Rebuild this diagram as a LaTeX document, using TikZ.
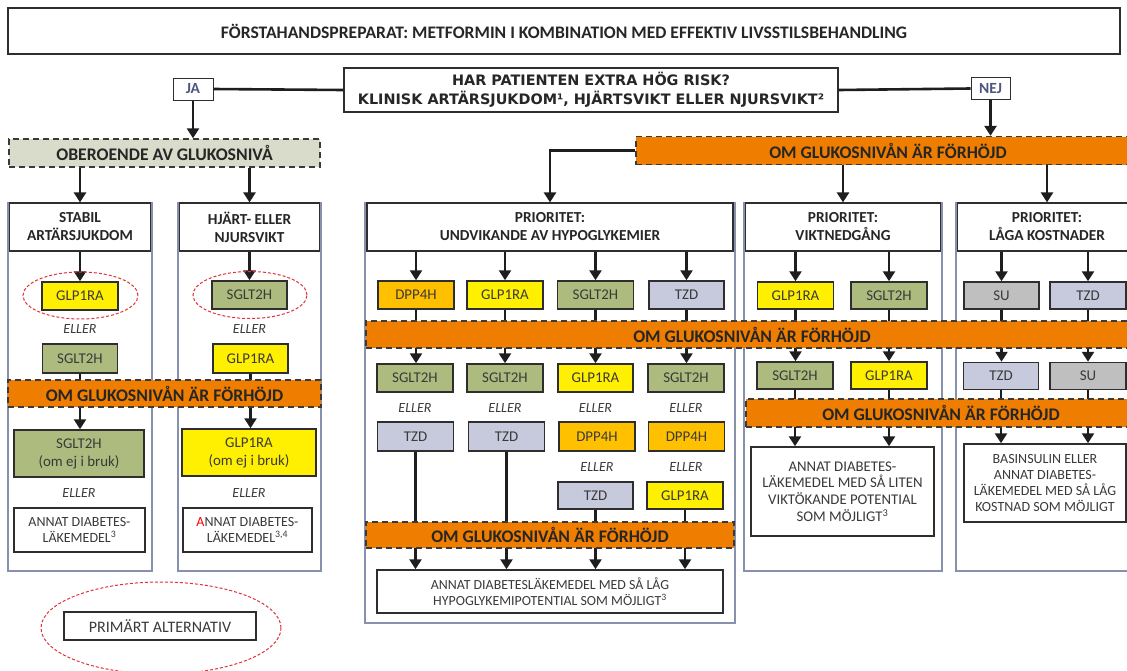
\documentclass[tikz,border=0pt]{standalone}
\usepackage{fontspec}
\setmainfont{Carlito}
\newfontfamily\verdfont{DejaVu Sans}
\usepackage{tikz}
\usetikzlibrary{arrows.meta,positioning,calc,shapes.geometric}
\usepackage{xcolor}
\definecolor{Ink}{HTML}{262626}
\definecolor{SoftInk}{HTML}{3A3A3A}
\definecolor{BoxLine}{HTML}{2E2E2E}
\definecolor{Slate}{HTML}{8791AD}
\definecolor{ArrowGray}{HTML}{1E1E1E}
\definecolor{DashGray}{HTML}{3A3A3A}
\definecolor{GlpYellow}{HTML}{FFEF00}
\definecolor{SglGreen}{HTML}{ADBB7E}
\definecolor{DppGold}{HTML}{FFC000}
\definecolor{TzdBlue}{HTML}{C6CADC}
\definecolor{SuGray}{HTML}{BFBFBF}
\definecolor{BarOrange}{HTML}{EF7D00}
\definecolor{IndepFill}{HTML}{D9DCCB}
\definecolor{TagBlue}{HTML}{4E5680}
\definecolor{OvalRed}{HTML}{E0303A}
\newcommand\titlefont{\fontsize{17.6}{20}\selectfont\bfseries}
\newcommand\riskfont{\verdfont\fontsize{14.4}{19}\selectfont\bfseries}
\newcommand\hdrfont{\fontsize{15.3}{18}\selectfont\bfseries}
\newcommand\drugfont{\fontsize{14.9}{18}\selectfont}
\newcommand\ellerfont{\fontsize{14}{16}\selectfont\itshape}
\newcommand\barfont{\fontsize{17.7}{20}\selectfont\bfseries}
\newcommand\notefont{\fontsize{14}{16}\selectfont}
\newcommand\finfont{\fontsize{13.9}{16.5}\selectfont}
\newcommand\tagfont{\fontsize{15.5}{18}\selectfont\bfseries}
\tikzset{
  arr/.style={-{Triangle[length=10pt,width=12pt]},line width=2.6pt,draw=ArrowGray},
  link/.style={line width=2.6pt,draw=ArrowGray},
  colframe/.style={draw=Slate,line width=1.6pt,fill=white,inner sep=0pt},
  hdrbox/.style={draw=BoxLine,line width=1.2pt,fill=white,align=center,font=\hdrfont,text=Ink,inner sep=0pt},
  drug/.style={draw=BoxLine,line width=1.5pt,minimum width=76pt,minimum height=28pt,inner sep=0pt,align=center,font=\drugfont,text=SoftInk},
  glp/.style={drug,fill=GlpYellow},
  sgl/.style={drug,fill=SglGreen},
  dpp/.style={drug,fill=DppGold},
  tzd/.style={drug,fill=TzdBlue},
  su/.style={drug,fill=SuGray},
  eller/.style={font=\ellerfont,text=SoftInk,inner sep=0pt},
  bar/.style={draw=DashGray,dash pattern=on 6pt off 4pt,line width=1.4pt,fill=BarOrange,font=\barfont,text=Ink,inner sep=0pt},
  note/.style={draw=BoxLine,line width=1.5pt,fill=white,align=center,font=\notefont,text=SoftInk,inner sep=0pt},
  tag/.style={draw=BoxLine,line width=1pt,fill=white,font=\tagfont,text=TagBlue,inner sep=0pt,minimum height=22pt},
  primary/.style={ellipse,draw=OvalRed,dash pattern=on 3pt off 2pt,line width=1pt,inner sep=0pt}
}
\begin{document}
\begin{tikzpicture}[x=1pt,y=-1pt]
  \useasboundingbox (0,0) rectangle (1127,670);
  \clip (0,0) rectangle (1127,670);
  \fill[white] (0,0) rectangle (1127,670);

  % top of the chart
  \node[hdrbox,font=\titlefont,minimum width=1112pt,minimum height=46pt] (first) at (564,31)
    {FÖRSTAHANDSPREPARAT: METFORMIN I KOMBINATION MED EFFEKTIV LIVSSTILSBEHANDLING};
  \node[hdrbox,font=\riskfont,minimum width=494pt,minimum height=44pt] (risk) at (591,90)
    {HAR PATIENTEN EXTRA HÖG RISK?\\KLINISK ARTÄRSJUKDOM¹, HJÄRTSVIKT ELLER NJURSVIKT²};
  \node[tag,minimum width=40pt] (ja) at (193,89) {JA};
  \node[tag,minimum width=39pt] (nej) at (990.5,88.5) {NEJ};
  \node[bar,fill=IndepFill,minimum width=311pt,minimum height=28pt] (indep) at (164.5,153) {OBEROENDE AV GLUKOSNIVÅ};

  % column frames and headers
  \node[colframe,minimum width=144pt,minimum height=368pt] (colA) at (80,387) {};
  \node[colframe,minimum width=143pt,minimum height=368pt] (colB) at (249.5,387) {};
  \node[colframe,minimum width=370pt,minimum height=420pt] (colH) at (550,413) {};
  \node[colframe,minimum width=198pt,minimum height=368pt] (colV) at (843,387) {};
  \node[colframe,minimum width=182pt,minimum height=368pt] (colL) at (1047,387) {};
  \node[hdrbox,minimum width=141pt,minimum height=48pt] (hdrA) at (80,227) {STABIL\\ARTÄRSJUKDOM};
  \node[hdrbox,minimum width=140pt,minimum height=48pt] (hdrB) at (249.5,227) {HJÄRT- ELLER\\NJURSVIKT};
  \node[hdrbox,minimum width=366pt,minimum height=48pt] (hdrH) at (550,227) {PRIORITET:\\UNDVIKANDE AV HYPOGLYKEMIER};
  \node[hdrbox,minimum width=195pt,minimum height=48pt] (hdrV) at (843,227) {PRIORITET:\\VIKTNEDGÅNG};
  \node[hdrbox,minimum width=179pt,minimum height=48pt] (hdrL) at (1047,227) {PRIORITET:\\LÅGA KOSTNADER};

  % stabil artärsjukdom
  \node[glp] (glpA) at (80,296) {GLP1RA};
  \node[eller] (ellA1) at (80,329) {ELLER};
  \node[sgl,minimum width=75pt,minimum height=29pt] (sglA) at (80,358.5) {SGLT2H};
  \node[sgl,minimum width=130pt,minimum height=47pt] (sglA2) at (79,453.5) {SGLT2H\\(om ej i bruk)};
  \node[eller] (ellA2) at (79,493) {ELLER};
  \node[note,minimum width=131pt,minimum height=44pt] (annA) at (79.5,530) {ANNAT DIABETES-\\LÄKEMEDEL\textsuperscript{3}};

  % hjärt- eller njursvikt
  \node[sgl,minimum width=75pt] (sglB) at (249.5,295) {SGLT2H};
  \node[eller] (ellB1) at (249.5,329) {ELLER};
  \node[glp,minimum width=75pt,minimum height=29pt] (glpB) at (250.5,358.5) {GLP1RA};
  \node[glp,minimum width=134pt,minimum height=47pt] (glpB2) at (249,452.5) {GLP1RA\\(om ej i bruk)};
  \node[eller] (ellB2) at (249,493) {ELLER};
  \node[note,minimum width=129pt,minimum height=44pt] (annB) at (247.5,530) {{\color{red}A}NNAT DIABETES-\\LÄKEMEDEL\textsuperscript{3,4}};

  % undvikande av hypoglykemier
  \node[dpp] (dppH1) at (416,295) {DPP4H};
  \node[glp] (glpH1) at (505,295) {GLP1RA};
  \node[sgl] (sglH1) at (595.5,295) {SGLT2H};
  \node[tzd,minimum width=75pt] (tzdH1) at (686.5,295) {TZD};
  \node[sgl] (sglH2a) at (415,378) {SGLT2H};
  \node[sgl] (sglH2b) at (505,378) {SGLT2H};
  \node[glp,minimum width=75pt] (glpH2c) at (595.5,378) {GLP1RA};
  \node[sgl] (sglH2d) at (686,378) {SGLT2H};
  \node[eller] (ellH1) at (415,408) {ELLER};
  \node[eller] (ellH2) at (505,408) {ELLER};
  \node[eller] (ellH3) at (595.5,408) {ELLER};
  \node[eller] (ellH4) at (686,408) {ELLER};
  \node[tzd,minimum height=29pt] (tzdH3a) at (415.5,436.5) {TZD};
  \node[tzd,minimum height=29pt] (tzdH3b) at (506.5,436.5) {TZD};
  \node[dpp,minimum height=29pt] (dppH3c) at (597,436.5) {DPP4H};
  \node[dpp,minimum height=29pt] (dppH3d) at (686.5,436.5) {DPP4H};
  \node[eller] (ellH5) at (597,467) {ELLER};
  \node[eller] (ellH6) at (686,467) {ELLER};
  \node[tzd,minimum width=75pt,minimum height=27pt] (tzdH4c) at (595.5,495.5) {TZD};
  \node[glp,minimum height=27pt] (glpH4d) at (685,495.5) {GLP1RA};
  \node[note,font=\finfont,minimum width=346pt,minimum height=43pt] (finH) at (550,591.5)
    {ANNAT DIABETESLÄKEMEDEL MED SÅ LÅG\\HYPOGLYKEMIPOTENTIAL SOM MÖJLIGT\textsuperscript{3}};

  % viktnedgång
  \node[glp,minimum height=27pt] (glpV1) at (795.5,295.5) {GLP1RA};
  \node[sgl,minimum height=27pt] (sglV1) at (889,295.5) {SGLT2H};
  \node[sgl,minimum height=27pt] (sglV2) at (795,375.5) {SGLT2H};
  \node[glp,minimum height=27pt] (glpV2) at (889,375.5) {GLP1RA};
  \node[note,font=\fontsize{14.8}{16.8}\selectfont,minimum width=183pt,minimum height=89pt] (finV) at (842.5,491.5)
    {ANNAT DIABETES-\\LÄKEMEDEL MED SÅ LITEN\\VIKTÖKANDE POTENTIAL\\SOM MÖJLIGT\textsuperscript{3}};

  % låga kostnader
  \node[su,minimum width=75pt,minimum height=27pt] (suL1) at (1001.5,295.5) {SU};
  \node[tzd,minimum height=27pt] (tzdL1) at (1088,295.5) {TZD};
  \node[tzd,minimum width=75pt,minimum height=27pt] (tzdL2) at (1001,376) {TZD};
  \node[su,minimum height=27pt] (suL2) at (1088,376) {SU};
  \node[note,minimum width=162pt,minimum height=78pt] (finL) at (1045,483)
    {BASINSULIN ELLER\\ANNAT DIABETES-\\LÄKEMEDEL MED SÅ LÅG\\KOSTNAD SOM MÖJLIGT};

  % connectors
  \draw[link] (risk.west) -- (ja.east);
  \draw[link] (risk.east) -- (nej.west);
  \draw[arr] (ja.south) -- (ja.south |- indep.north);
  \draw[arr] (indep.south -| hdrA) -- (hdrA.north);
  \draw[arr] (indep.south -| hdrB) -- (hdrB.north);
  \draw[arr] (hdrA.south) -- (glpA.north);
  \draw[arr] (hdrB.south) -- (sglB.north);
  \draw[arr] (sglA.south) -- (sglA.south |- sglA2.north);
  \draw[arr] (glpB.south) -- (glpB.south |- glpB2.north);
  \foreach \b in {dppH1,glpH1,sglH1,tzdH1,glpV1,sglV1,suL1,tzdL1}
    \draw[arr] (\b.north |- hdrV.south) -- (\b.north);
  \foreach \a/\b in {dppH1/sglH2a,glpH1/sglH2b,sglH1/glpH2c,tzdH1/sglH2d,glpV1/sglV2,sglV1/glpV2,suL1/tzdL2,tzdL1/suL2}
    \draw[arr] (\a.south) -- (\a.south |- \b.north);
  \foreach \b in {tzdH3a,tzdH3b,tzdH4c,glpH4d}
    \draw[arr] (\b.south) -- (\b.south |- finH.north);
  \foreach \b in {sglV2,glpV2}
    \draw[arr] (\b.south) -- (\b.south |- finV.north);
  \foreach \b in {tzdL2,suL2}
    \draw[arr] (\b.south) -- (\b.south |- finL.north);

  % orange bars on top of the lines
  \node[bar,minimum width=504pt,minimum height=28pt] (topbar) at (888,150.5) {OM GLUKOSNIVÅN ÄR FÖRHÖJD};
  \node[bar,minimum width=313pt,minimum height=27pt] (barA) at (164.5,393.5) {OM GLUKOSNIVÅN ÄR FÖRHÖJD};
  \node[bar,minimum width=772pt,minimum height=27pt] (barM) at (752,334.5) {OM GLUKOSNIVÅN ÄR FÖRHÖJD};
  \node[bar,minimum width=390pt,minimum height=28pt] (barV) at (941,413) {OM GLUKOSNIVÅN ÄR FÖRHÖJD};
  \node[bar,minimum width=368pt,minimum height=26pt] (barH) at (550,535) {OM GLUKOSNIVÅN ÄR FÖRHÖJD};
  \draw[arr] (nej.south) -- (nej.south |- topbar.north);
  \draw[arr] (topbar.west) -| (hdrH.north);
  \draw[arr] (topbar.south -| hdrV) -- (hdrV.north);
  \draw[arr] (topbar.south -| hdrL) -- (hdrL.north);

  % primärt alternativ
  \node[primary,minimum width=115pt,minimum height=47pt] (ovA) at (80.5,295.5) {};
  \node[primary,minimum width=114pt,minimum height=47pt] (ovB) at (250,295) {};
  \node[primary,minimum width=240pt,minimum height=92pt] (ovKey) at (161,628) {};
  \node[note,font=\fontsize{16}{18}\selectfont,minimum width=192pt,minimum height=28pt] (key) at (160,626) {PRIMÄRT ALTERNATIV};
\end{tikzpicture}
\end{document}
